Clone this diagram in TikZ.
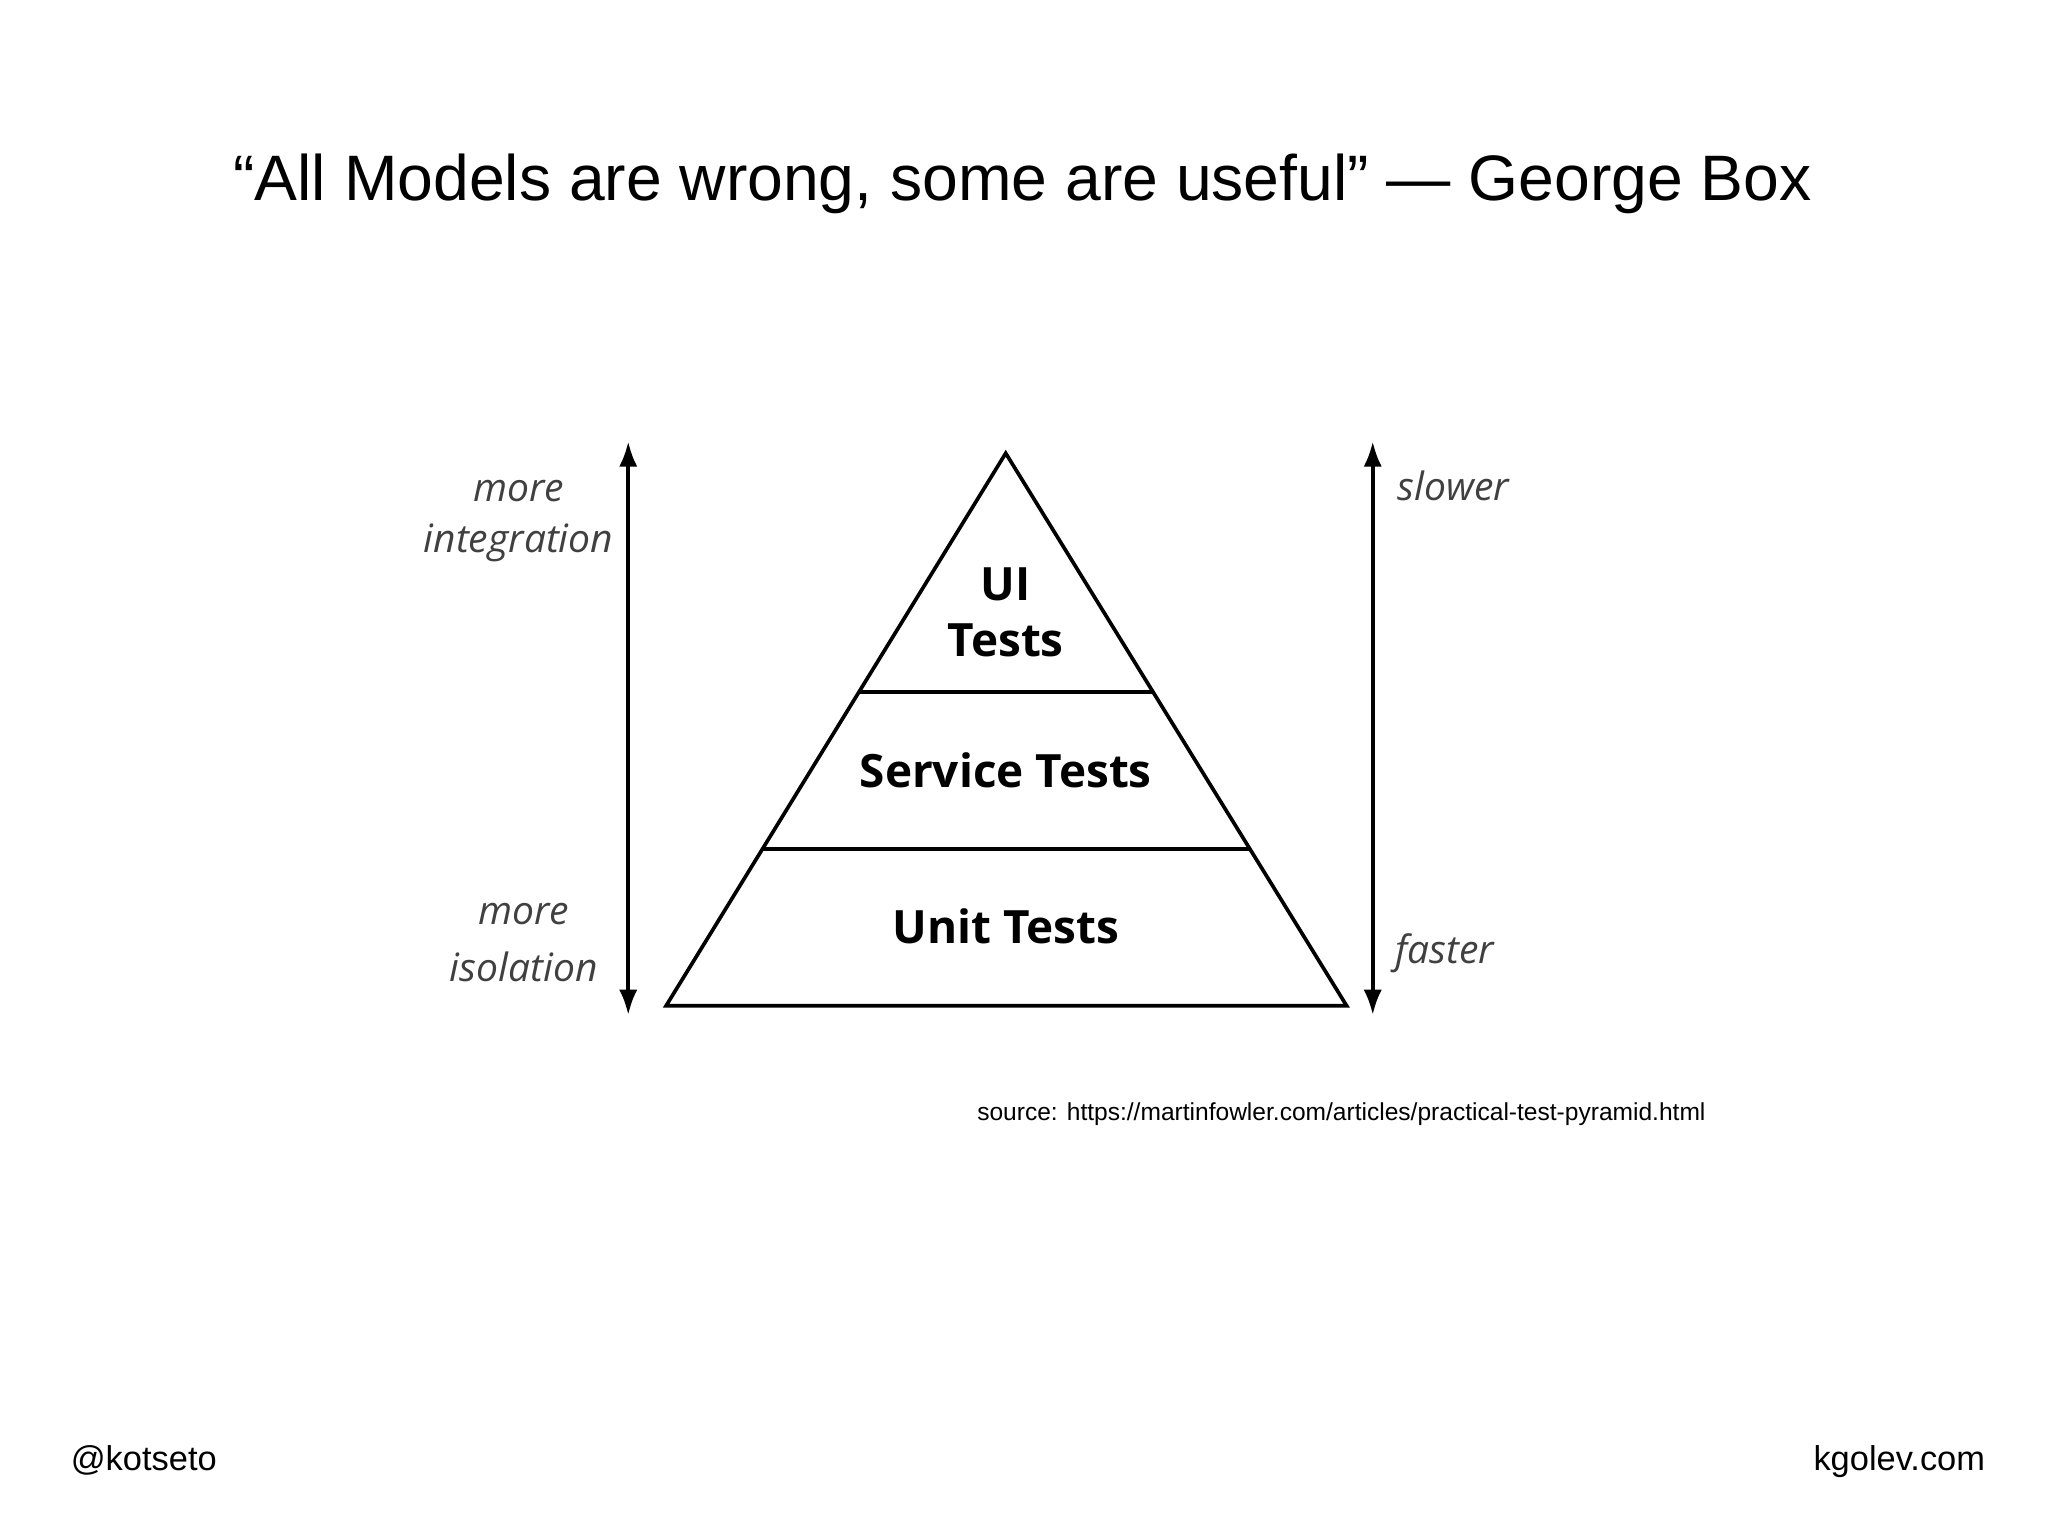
\documentclass[tikz,border=0pt]{standalone}
\usepackage{fontspec}
\setmainfont{Liberation Sans}
\newfontfamily\osans{Open Sans}
\usetikzlibrary{arrows.meta}
\begin{document}
\begin{tikzpicture}[x=0.02cm,y=-0.02cm,
  lbl/.style={font=\osans\bfseries\fontsize{20}{24}\selectfont},
  ital/.style={font=\osans\itshape\fontsize{17}{20}\selectfont,text=black!75},
  arr/.style={line width=1.6pt,{Latex[length=11pt,width=8pt]}-{Latex[length=11pt,width=8pt]}},
  pyr/.style={line width=1.6pt}]
\useasboundingbox[fill=white] (0,0) rectangle (1568,1176);
\node (title) at (783,141) {\fontsize{28}{33}\selectfont “All Models are wrong, some are useful” — George Box};
\coordinate (apex) at (770,347);
\coordinate (bl) at (510,770);
\coordinate (br) at (1031,770);
\draw[pyr,line join=miter] (apex) -- (br) -- (bl) -- cycle;
\coordinate (a1) at (658,530); \coordinate (b1) at (883,530);
\coordinate (a2) at (584,650); \coordinate (b2) at (957,650);
\draw[pyr] (a1) -- (b1);
\draw[pyr] (a2) -- (b2);
\node[lbl] (ui) at (770,447) {UI};
\node[lbl] (uit) at (770,490) {Tests};
\node[lbl] (svc) at (770,590) {Service Tests};
\node[lbl] (unit) at (770,709) {Unit Tests};
\coordinate (lt) at (481,338); \coordinate (lb) at (481,777);
\coordinate (rt) at (1051,338); \coordinate (rb) at (1051,777);
\draw[arr] (lt) -- (lb);
\draw[arr] (rt) -- (rb);
\node[ital] (m1) at (397,376) {more};
\node[ital] (integ) at (397,416) {integration};
\node[ital] (m2) at (401,700) {more};
\node[ital] (iso) at (401,740) {isolation};
\node[ital,anchor=west] (slow) at (1064,372) {slower};
\node[ital,anchor=west] (fast) at (1062,730) {faster};
\node[anchor=west,font=\fontsize{10.7}{12}\selectfont] (src) at (742,853) {source: https://martinfowler.com/articles/practical-test-pyramid.html};
\node[anchor=base west,font=\fontsize{15}{18}\selectfont] (tw) at (48,1126) {@kotseto};
\node[anchor=base east,font=\fontsize{15}{18}\selectfont] (web) at (1526,1126) {kgolev.com};
\end{tikzpicture}
\end{document}
